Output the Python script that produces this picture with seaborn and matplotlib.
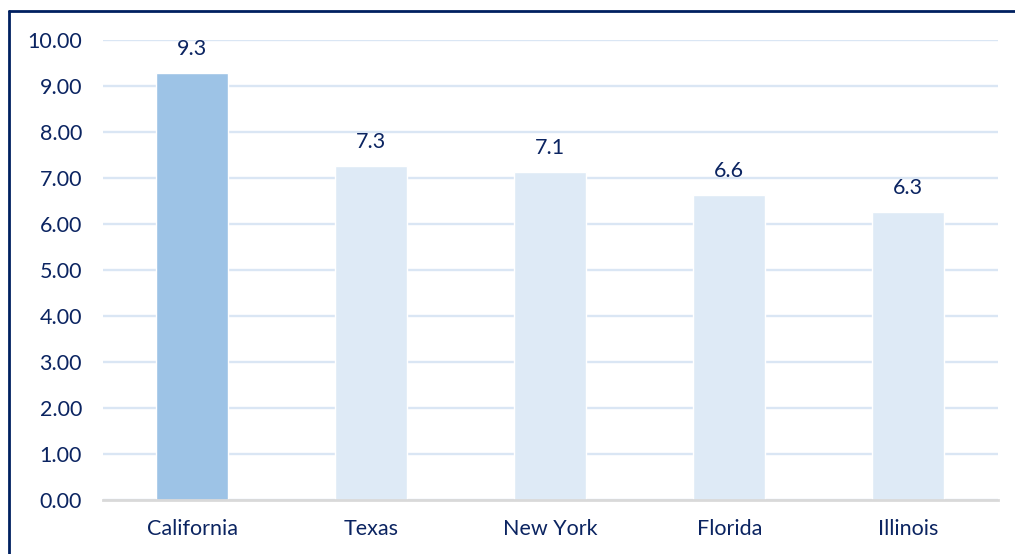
import pandas as pd
import seaborn as sns
from matplotlib import pyplot as plt
from matplotlib.lines import Line2D

states = ['California', 'Texas', 'New York', 'Florida', 'Illinois']
values = [9.28, 7.26, 7.14, 6.63, 6.27]
labels = ['9.3', '7.3', '7.1', '6.6', '6.3']
y_ticks = [0, 1, 2, 3, 4, 5, 6, 7, 8, 9, 10]

NAVY = '#0B2461'
colors = {s: ('#9DC3E6' if s == 'California' else '#DEEAF6') for s in states}

sns.set_style('white')
plt.rcParams['font.family'] = ['Lato', 'DejaVu Sans']

df = pd.DataFrame({'state': states, 'value': values})

fig = plt.figure(figsize=(10.15, 5.54), dpi=100)
ax = fig.add_axes([0.1012, 0.0975, 0.8818, 0.8303])

sns.barplot(data=df, x='state', y='value', hue='state', palette=colors,
            width=0.4, legend=False, saturation=1, ax=ax, zorder=2)

ax.set_ylim(0, 10)
ax.set_xlim(-0.5, 4.5)
ax.set_yticks(y_ticks)
ax.set_yticklabels([f'{t:.2f}' for t in y_ticks])
ax.yaxis.grid(True, color='#DAE6F4', linewidth=1.7, zorder=0)
ax.set_axisbelow(True)
ax.set_xlabel('')
ax.set_ylabel('')

for side in ['top', 'right', 'left']:
    ax.spines[side].set_visible(False)
ax.spines['bottom'].set_color('#D9D9D9')
ax.spines['bottom'].set_linewidth(2)
ax.spines['bottom'].set_zorder(3)

ax.tick_params(axis='both', length=0, labelcolor=NAVY, labelsize=15.5)
ax.tick_params(axis='y', pad=15)
ax.tick_params(axis='x', pad=14)

for i, (v, lab) in enumerate(zip(values, labels)):
    ax.annotate(lab, (i, v), xytext=(0, 10), textcoords='offset points',
                ha='center', va='bottom', color=NAVY, fontsize=15.5)

# outer frame (top and left edges visible)
fig.add_artist(Line2D([8.5 / 1015, 1.0], [1 - 11 / 554, 1 - 11 / 554],
                      color='#002060', linewidth=2, transform=fig.transFigure))
fig.add_artist(Line2D([8.5 / 1015, 8.5 / 1015], [0.0, 1 - 11 / 554],
                      color='#002060', linewidth=2, transform=fig.transFigure))

plt.savefig('out.png', dpi=100)
